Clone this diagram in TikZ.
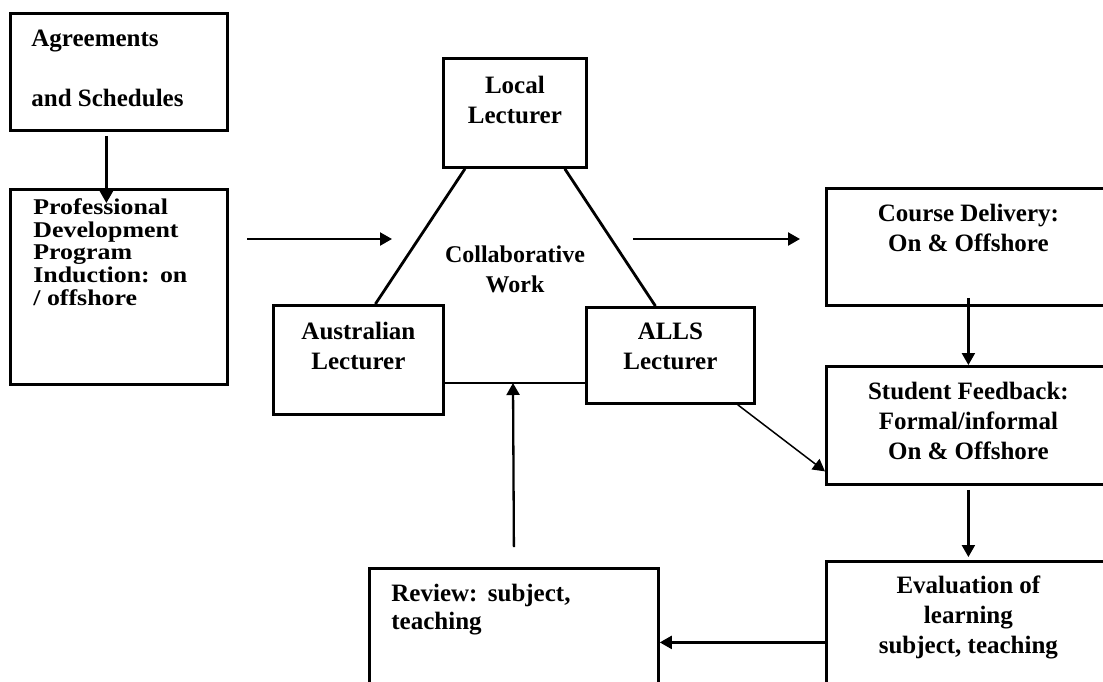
\documentclass[tikz,border=0pt]{standalone}
\usepackage{fontspec}
\setmainfont{Liberation Serif}
\newfontfamily\ancha[FakeStretch=1.15]{Liberation Serif}
\usetikzlibrary{arrows.meta}
\begin{document}
\begin{tikzpicture}[x=1pt,y=-1pt,
    caja/.style={draw,line width=2.8pt,inner ysep=0pt,anchor=north west,
      font=\bfseries\fontsize{25}{30}\selectfont},
    texto/.style={font=\bfseries\fontsize{24}{30}\selectfont},
    flecha/.style={line width=2.3pt,-{Triangle[length=12pt,width=13pt]}},
    linea/.style={line width=2.8pt}]
        \useasboundingbox (0,0) rectangle (1103,681);
        \clip (0,0) rectangle (1103,681);
        % Cajas de la izquierda
        \node[caja,inner xsep=21pt,text width=175pt,align=flush left,text height=33pt,text depth=84pt] (agree) at (9,12) {Agreements\\[30pt]and Schedules};
        \node[caja,inner xsep=23pt,text width=171pt,align=flush left,text height=25pt,text depth=170pt,
          font=\ancha\bfseries\fontsize{22.5}{22.7}\selectfont] (prof) at (9,188) {Professional\\Development\\Program\\Induction:\ \,on\\/ offshore};
        % Triangulo de trabajo colaborativo
        \node[caja,inner xsep=5pt,text width=133pt,align=flush center,text height=35pt,text depth=74pt] (local) at (442,57) {Local\\Lecturer};
        \node[caja,inner xsep=5pt,text width=160pt,align=flush center,text height=34pt,text depth=75pt] (aus) at (272,304) {Australian\\Lecturer};
        \node[caja,inner xsep=5pt,text width=158pt,align=flush center,text height=32pt,text depth=64pt] (alls) at (585,306) {ALLS\\Lecturer};
        \node[texto,text width=150pt,align=flush center,anchor=base] (collab) at (515,262) {Collaborative\\Work};
        \coordinate (base) at (513,383);
        \draw[linea] ([xshift=23pt]local.south west) -- ([xshift=17pt]aus.north);
        \draw[linea] ([xshift=-23pt]local.south east) -- ([xshift=-15pt]alls.north);
        \draw[linea] (base -| aus.east) -- (base -| alls.west);
        % Cajas de la derecha y de abajo
        \node[caja,inner xsep=5pt,text width=274pt,align=flush center,text height=33pt,text depth=84pt] (course) at (825,187) {Course Delivery:\\On \& Offshore};
        \node[caja,inner xsep=5pt,text width=274pt,align=flush center,text height=33pt,text depth=85pt] (student) at (825,365) {Student Feedback:\\Formal/informal\\On \& Offshore};
        \node[caja,inner xsep=5pt,text width=274pt,align=flush center,text height=32pt,text depth=108pt] (eval) at (825,560) {Evaluation of\\learning\\subject, teaching};
        \node[caja,inner xsep=22pt,text width=245pt,align=flush left,text height=33pt,text depth=100pt,
          font=\bfseries\fontsize{25}{28}\selectfont] (review) at (368,567) {Review:\ \,subject,\\teaching};
        % Flechas
        \coordinate (pdout) at (247,239);
        \coordinate (triin) at (392,239);
        \coordinate (triout) at (633,239);
        \coordinate (evalout) at ([yshift=-11pt]eval.west);
        \draw[flecha] ([xshift=-12.5pt,yshift=-4pt]agree.south) -- ([xshift=-12.5pt,yshift=-15pt]prof.north);
        \draw[flecha] (pdout) -- (triin);
        \draw[flecha,shorten >=25pt] (triout) -- (triout -| course.west);
        \draw[flecha] ([yshift=9pt]course.south) -- (student.north);
        \draw[flecha] ([yshift=-4pt]student.south) -- ([yshift=3pt]eval.north);
        \draw[flecha] (evalout) -- (evalout -| review.east);
        \draw[flecha] ([yshift=20pt]review.north) -- (base);
        \draw[flecha,line width=1.5pt] ([xshift=-18pt]alls.south east) -- ([yshift=-46pt]student.west);
    \end{tikzpicture}
\end{document}
